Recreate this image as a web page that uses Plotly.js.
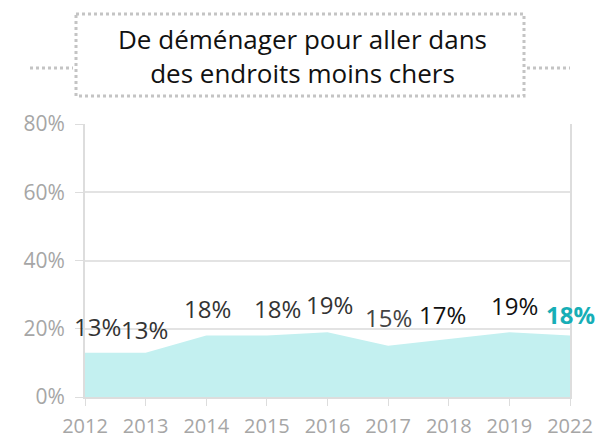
<!DOCTYPE html>
<html>
<head>
<meta charset="utf-8">
<script src="https://cdn.plot.ly/plotly-3.0.1.min.js"></script>
<style>html,body{margin:0;padding:0;background:#fff;}#chart{width:600px;height:437px;}</style>
</head>
<body>
<div id="chart"></div>
<script>
// Data
const years = ["2012", "2013", "2014", "2015", "2016", "2017", "2018", "2019", "2022"];
const values = [13, 13, 18, 18, 19, 15, 17, 19, 18];
const yTickVals = [0, 20, 40, 60, 80];
const yTickText = ["0%", "20%", "40%", "60%", "80%"];
const titleLines = ["De déménager pour aller dans", "des endroits moins chers"];

// Label styling (separate from data)
const labelXShift = [12, -1, 1, 11, 2, 0, -6, 5, 0];
const labelYShift = [26, 23, 27, 27, 28, 28, 24, 27, 21];
const labelColors = ["#333333", "#333333", "#333333", "#333333", "#333333", "#444444", "#111111", "#111111", "#17aeb6"];

const FONT = "'Open Sans', 'Noto Sans', sans-serif";

const trace = {
  type: "scatter",
  mode: "lines",
  x: years,
  y: values,
  fill: "tozeroy",
  fillcolor: "#c3f0f0",
  line: {width: 0, color: "#c3f0f0"},
  hoverinfo: "skip"
};

const annotations = years.map((yr, i) => ({
  x: i, y: values[i], xref: "x", yref: "y",
  text: (i === years.length - 1 ? "<b>" + values[i] + "%</b>" : values[i] + "%"),
  showarrow: false,
  xanchor: "center", yanchor: "middle",
  xshift: labelXShift[i], yshift: labelYShift[i],
  font: {family: FONT, size: 24, color: labelColors[i]}
}));

annotations.push({
  xref: "paper", yref: "paper",
  x: (302 - 85) / 485, y: (397 - 56) / 273,
  xanchor: "center", yanchor: "middle",
  showarrow: false,
  align: "center",
  text: titleLines.join("<br>"),
  font: {family: FONT, size: 26, color: "#111111"}
});

const dotLine = {color: "#c4c4c4", width: 3, dash: "dot"};
const px = v => (v - 85) / 485;
const py = v => (397 - v) / 273;
const shapes = [
  {type: "rect", xref: "paper", yref: "paper", x0: px(76), x1: px(524), y0: py(14), y1: py(96), line: dotLine, fillcolor: "rgba(0,0,0,0)"},
  {type: "line", xref: "paper", yref: "paper", x0: px(30), x1: px(73), y0: py(68), y1: py(68), line: dotLine},
  {type: "line", xref: "paper", yref: "paper", x0: px(527), x1: px(570), y0: py(68), y1: py(68), line: dotLine}
];

const layout = {
  width: 600, height: 437,
  margin: {l: 85, r: 30, t: 124, b: 40, pad: 0},
  paper_bgcolor: "#ffffff",
  plot_bgcolor: "#ffffff",
  showlegend: false,
  font: {family: FONT},
  xaxis: {
    type: "category",
    range: [0, years.length - 1],
    showgrid: false,
    zeroline: false,
    showline: true, linecolor: "#dddddd", linewidth: 2,
    ticks: "outside", ticklen: 7, tickcolor: "#dddddd", tickwidth: 1,
    tickfont: {family: FONT, size: 20, color: "#a6a6a6"},
    ticklabelstandoff: 3,
    fixedrange: true
  },
  yaxis: {
    range: [0, 80],
    tickvals: yTickVals, ticktext: yTickText,
    showgrid: true, gridcolor: "#e3e3e3", gridwidth: 2,
    zeroline: false,
    showline: true, linecolor: "#dddddd", linewidth: 2, mirror: true,
    ticks: "outside", ticklen: 8, tickcolor: "#dddddd", tickwidth: 1,
    tickfont: {family: FONT, size: 21, color: "#a6a6a6"},
    ticklabelstandoff: 6,
    fixedrange: true
  },
  annotations: annotations,
  shapes: shapes
};

Plotly.newPlot("chart", [trace], layout, {staticPlot: true, displayModeBar: false});
</script>
</body>
</html>
